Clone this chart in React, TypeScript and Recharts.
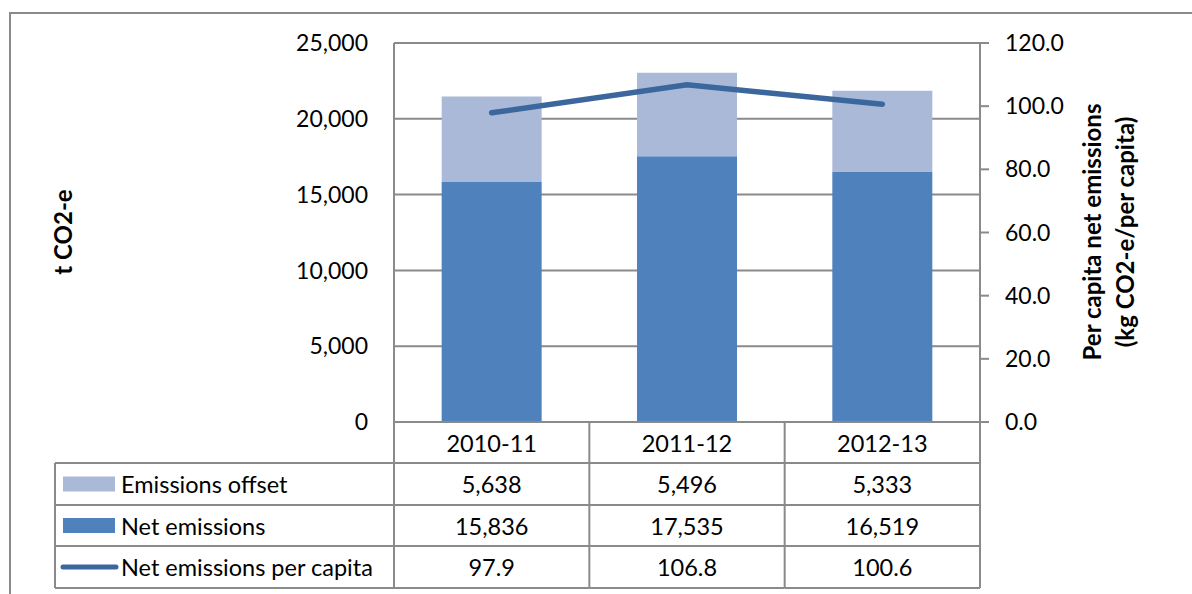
import React from 'react';
import { ComposedChart, Bar, Line, XAxis, YAxis, CartesianGrid } from 'recharts';

const categories = ['2010-11', '2011-12', '2012-13'];
const emissionsOffset = [5638, 5496, 5333];
const netEmissions = [15836, 17535, 16519];
const perCapita = [97.9, 106.8, 100.6];
const leftTicks = [0, 5000, 10000, 15000, 20000, 25000];
const rightTicks = [0, 20, 40, 60, 80, 100, 120];
const seriesNames = ['Emissions offset', 'Net emissions', 'Net emissions per capita'];
const leftTitle = 't CO2-e';
const rightTitle = ['Per capita net emissions', '(kg CO2-e/per capita)'];

const data = categories.map((c, i) => ({
  category: c,
  net: netEmissions[i],
  offset: emissionsOffset[i],
  perCapita: perCapita[i],
}));

const W = 1192;
const H = 594;
const LEFT_W = 394;
const RIGHT_W = 212;
const TOP = 43;
const XAXIS_H = 172;
const FONT = 'Lato, "Open Sans", sans-serif';
const GRID = '#8a8a8a';
const C_OFFSET = '#A9B9D7';
const C_NET = '#4F81BD';
const C_LINE = '#3B679D';
const FS = 23.5;
const TFS = 23;
const TITLE_FS = 24;

const plotW = W - LEFT_W - RIGHT_W;
const half = plotW / categories.length / 2;
const rowOffsets = [41, 83, 124, 166];
const rowCenters = [21, 62, 103.5, 145];

const fmtInt = (v: number) => v.toLocaleString('en-US');

const TableColumn = (props: any) => {
  const { x, y, payload, index } = props;
  const i = typeof index === 'number' ? index : categories.indexOf(payload.value);
  const vals = [fmtInt(emissionsOffset[i]), fmtInt(netEmissions[i]), perCapita[i].toFixed(1)];
  const left = x - half;
  const right = x + half;
  return (
    <g>
      <line x1={left} y1={y} x2={left} y2={y + rowOffsets[3]} stroke={GRID} strokeWidth={2} />
      {i === categories.length - 1 && (
        <line x1={right} y1={y} x2={right} y2={y + rowOffsets[3]} stroke={GRID} strokeWidth={2} />
      )}
      {rowOffsets.map((o, k) => (
        <line key={k} x1={left} y1={y + o} x2={right} y2={y + o} stroke={GRID} strokeWidth={2} />
      ))}
      <text x={x} y={y + rowCenters[0]} textAnchor="middle" dominantBaseline="central" fontSize={FS} fontFamily={FONT} fill="#000">
        {payload.value}
      </text>
      {vals.map((v, k) => (
        <text key={k} x={x} y={y + rowCenters[k + 1]} textAnchor="middle" dominantBaseline="central" fontSize={FS} fontFamily={FONT} fill="#000">
          {v}
        </text>
      ))}
    </g>
  );
};

const LeftTitle = () => (
  <text x={62} y={232} transform="rotate(-90 62 232)" textAnchor="middle" dominantBaseline="central" fontSize={TITLE_FS} fontWeight="bold" fontFamily={FONT} fill="#000">
    {leftTitle}
  </text>
);

const RightTitle = () => (
  <g>
    <text x={1091} y={232} transform="rotate(-90 1091 232)" textAnchor="middle" dominantBaseline="central" fontSize={TITLE_FS} fontWeight="bold" fontFamily={FONT} fill="#000">
      {rightTitle[0]}
    </text>
    <text x={1124} y={232} transform="rotate(-90 1124 232)" textAnchor="middle" dominantBaseline="central" fontSize={TITLE_FS} fontWeight="bold" fontFamily={FONT} fill="#000">
      {rightTitle[1]}
    </text>
  </g>
);

const legendRows = [
  { name: seriesNames[0], color: C_OFFSET, kind: 'rect' },
  { name: seriesNames[1], color: C_NET, kind: 'rect' },
  { name: seriesNames[2], color: C_LINE, kind: 'line' },
];

const LegendColumn = () => {
  const ys = rowOffsets.map((o) => 422 + o);
  return (
    <svg width={W} height={H} style={{ position: 'absolute', left: 0, top: 0, pointerEvents: 'none' }}>
      <line x1={55} y1={ys[0]} x2={55} y2={ys[3]} stroke={GRID} strokeWidth={2} />
      {ys.map((yy, k) => (
        <line key={k} x1={55} y1={yy} x2={LEFT_W} y2={yy} stroke={GRID} strokeWidth={2} />
      ))}
      {legendRows.map((r, k) => {
        const cy = 422 + rowCenters[k + 1];
        return (
          <g key={k}>
            {r.kind === 'rect' ? (
              <rect x={63} y={cy - 7.5} width={52} height={15} fill={r.color} />
            ) : (
              <line x1={63} y1={cy} x2={116} y2={cy} stroke={r.color} strokeWidth={5} strokeLinecap="round" />
            )}
            <text x={121} y={cy} dominantBaseline="central" fontSize={FS} fontFamily={FONT} fill="#000">
              {r.name}
            </text>
          </g>
        );
      })}
    </svg>
  );
};

export default function App() {
  return (
    <div style={{ position: 'absolute', left: 0, top: 0, width: W, height: H, overflow: 'hidden', background: '#fff' }}>
      <div style={{ position: 'absolute', left: 9, top: 12, width: W + 20, height: H + 20, border: `2px solid ${GRID}` }} />
      <div style={{ position: 'absolute', left: 0, top: 0 }}>
        <ComposedChart width={W} height={H} data={data} margin={{ top: TOP, right: 0, bottom: 0, left: 0 }} barCategoryGap="24.4%">
          <CartesianGrid yAxisId="left" vertical={false} stroke={GRID} strokeWidth={2} />
          <XAxis
            dataKey="category"
            height={XAXIS_H}
            axisLine={{ stroke: GRID, strokeWidth: 2 }}
            tickLine={false}
            tickSize={0}
            tickMargin={0}
            tick={<TableColumn />}
            interval={0}
          />
          <YAxis
            yAxisId="left"
            width={LEFT_W}
            domain={[0, 25000]}
            ticks={leftTicks}
            tickFormatter={fmtInt}
            axisLine={{ stroke: GRID, strokeWidth: 2 }}
            tickLine={false}
            tickSize={0}
            tickMargin={26}
            tick={{ fontSize: TFS, fill: '#000', fontFamily: FONT }}
            label={{ content: () => <LeftTitle /> }}
          />
          <YAxis
            yAxisId="right"
            orientation="right"
            width={RIGHT_W}
            domain={[0, 120]}
            ticks={rightTicks}
            tickFormatter={(v: number) => v.toFixed(1)}
            axisLine={{ stroke: GRID, strokeWidth: 2 }}
            tickLine={{ stroke: GRID, strokeWidth: 2 }}
            tickSize={9}
            tickMargin={16}
            tick={{ fontSize: TFS, fill: '#000', fontFamily: FONT }}
            label={{ content: () => <RightTitle /> }}
          />
          <Bar yAxisId="left" dataKey="net" name={seriesNames[1]} stackId="a" fill={C_NET} isAnimationActive={false} />
          <Bar yAxisId="left" dataKey="offset" name={seriesNames[0]} stackId="a" fill={C_OFFSET} isAnimationActive={false} />
          <Line
            yAxisId="right"
            dataKey="perCapita"
            name={seriesNames[2]}
            stroke={C_LINE}
            strokeWidth={5.5}
            strokeLinecap="round"
            dot={false}
            isAnimationActive={false}
          />
        </ComposedChart>
      </div>
      <LegendColumn />
    </div>
  );
}
